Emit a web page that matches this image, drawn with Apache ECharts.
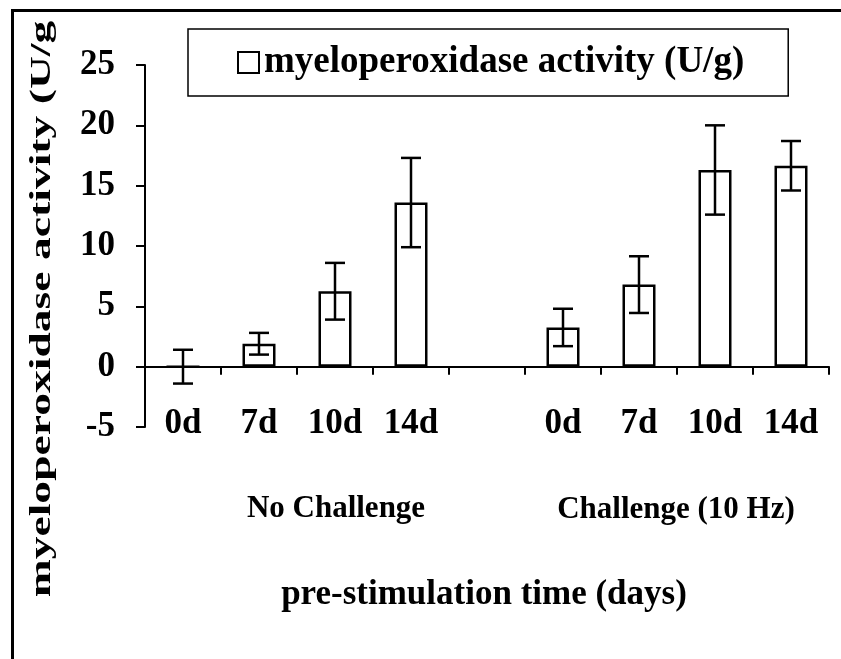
<!DOCTYPE html>
<html>
<head>
<meta charset="utf-8">
<script src="https://cdn.jsdelivr.net/npm/echarts@6/dist/echarts.min.js"></script>
<style>
  html, body { margin: 0; padding: 0; background: #fff; }
  #chart { width: 841px; height: 659px; }
</style>
</head>
<body>
<div id="chart"></div>
<script>
// days per group, empty slot separates the two groups
var categories = ["0d", "7d", "10d", "14d", "", "0d", "7d", "10d", "14d"];
var mpoMeans = [0, 1.9, 6.25, 13.6, null, 3.25, 6.8, 16.3, 16.65];
var mpoErrors = [1.4, 0.9, 2.35, 3.7, null, 1.55, 2.35, 3.7, 2.05];
var groupLabels = ["No Challenge", "Challenge (10 Hz)"];
var yTicks = [-5, 0, 5, 10, 15, 20, 25];

var font = "'Liberation Serif', 'Times New Roman', serif";

var chartDom = document.getElementById("chart");
var myChart = echarts.init(chartDom);

var errorData = [];
for (var i = 0; i < mpoMeans.length; i++) {
  if (mpoMeans[i] == null) continue;
  errorData.push([i, mpoMeans[i] - mpoErrors[i], mpoMeans[i] + mpoErrors[i]]);
}

function renderErrorBar(params, api) {
  var x = api.value(0);
  var lo = api.coord([x, api.value(1)]);
  var hi = api.coord([x, api.value(2)]);
  var half = 10;
  var style = { stroke: "#000", lineWidth: 2.5 };
  return {
    type: "group",
    children: [
      { type: "line", shape: { x1: hi[0], y1: hi[1], x2: lo[0], y2: lo[1] }, style: style },
      { type: "line", shape: { x1: hi[0] - half, y1: hi[1], x2: hi[0] + half, y2: hi[1] }, style: style },
      { type: "line", shape: { x1: lo[0] - half, y1: lo[1], x2: lo[0] + half, y2: lo[1] }, style: style }
    ]
  };
}

var option = {
  animation: false,
  backgroundColor: "#fff",
  textStyle: { fontFamily: font, fontWeight: "bold", color: "#000" },
  grid: { left: 145, right: 12, top: 65, bottom: 232 },
  legend: {
    left: 188,
    top: 29,
    padding: [15, 44, 15, 49],
    borderColor: "#000",
    borderWidth: 1.5,
    icon: "rect",
    itemWidth: 21,
    itemHeight: 21,
    itemGap: 10,
    textStyle: { fontFamily: font, fontWeight: "bold", fontSize: 37, color: "#000" },
    data: ["myeloperoxidase activity (U/g)"]
  },
  xAxis: {
    type: "category",
    data: categories,
    axisLine: { onZero: true, lineStyle: { color: "#000", width: 2 } },
    axisTick: { show: true, alignWithLabel: false, length: 8, lineStyle: { color: "#000", width: 2 } },
    axisLabel: {
      interval: 0,
      margin: -3,
      verticalAlign: "middle",
      fontFamily: font,
      fontWeight: "bold",
      fontSize: 35,
      color: "#000"
    }
  },
  yAxis: {
    type: "value",
    min: yTicks[0],
    max: yTicks[yTicks.length - 1],
    interval: 5,
    splitLine: { show: false },
    axisLine: { show: true, lineStyle: { color: "#000", width: 2 } },
    axisTick: { show: true, length: 9, lineStyle: { color: "#000", width: 2 } },
    axisLabel: { margin: 30, fontFamily: font, fontWeight: "bold", fontSize: 35, color: "#000" }
  },
  series: [
    {
      name: "myeloperoxidase activity (U/g)",
      type: "bar",
      data: mpoMeans,
      barWidth: 33,
      itemStyle: { color: "#fff", borderColor: "#000", borderWidth: 2.5 },
      z: 2
    },
    {
      type: "custom",
      data: errorData,
      renderItem: renderErrorBar,
      z: 3
    }
  ],
  graphic: [
    {
      type: "rect",
      left: 10,
      top: 8,
      shape: { width: 900, height: 700 },
      style: { fill: null, stroke: "#000", lineWidth: 3 },
      silent: true
    },
    {
      type: "text",
      x: 42,
      y: 309,
      rotation: Math.PI / 2,
      scaleX: 1.52,
      scaleY: 1,
      style: {
        text: "myeloperoxidase activity (U/g",
        font: "bold 30px " + font,
        fill: "#000",
        align: "center",
        verticalAlign: "middle"
      }
    },
    {
      type: "text",
      x: 336,
      y: 509,
      style: { text: groupLabels[0], font: "bold 31px " + font, fill: "#000", align: "center", verticalAlign: "middle" }
    },
    {
      type: "text",
      x: 676,
      y: 510,
      style: { text: groupLabels[1], font: "bold 31px " + font, fill: "#000", align: "center", verticalAlign: "middle" }
    },
    {
      type: "text",
      x: 484,
      y: 595,
      style: { text: "pre-stimulation time (days)", font: "bold 35px " + font, fill: "#000", align: "center", verticalAlign: "middle" }
    }
  ]
};

myChart.setOption(option);
</script>
</body>
</html>
